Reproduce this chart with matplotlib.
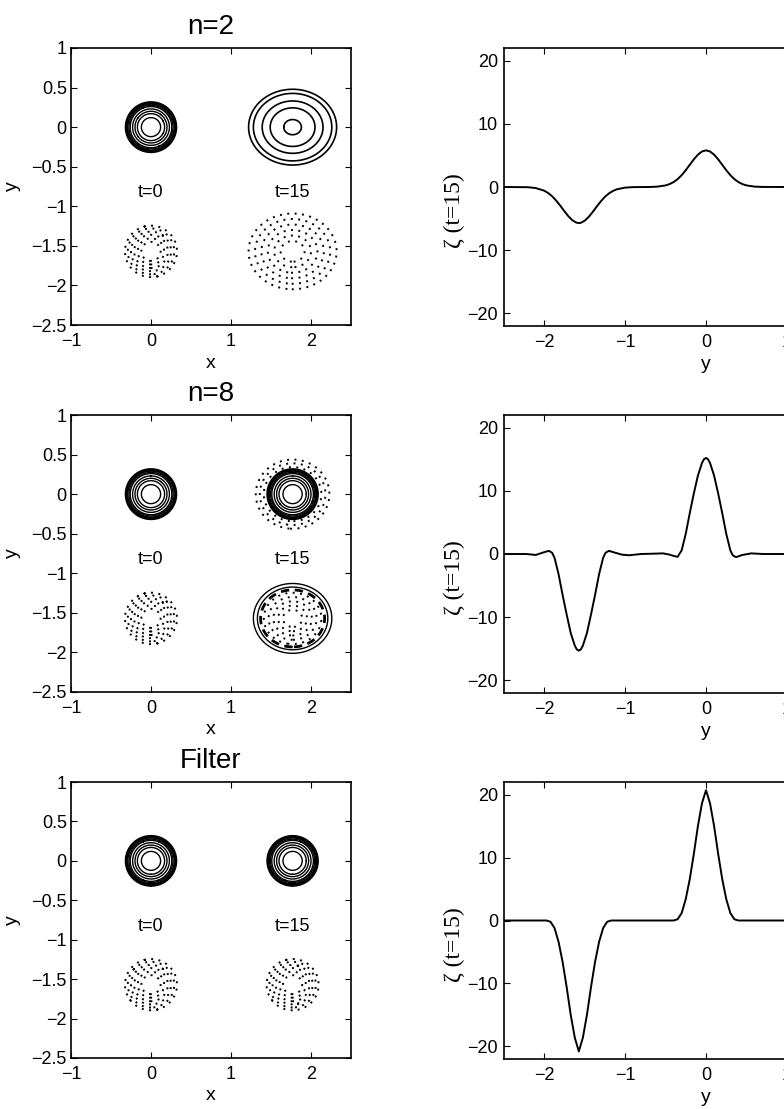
import numpy as np
import matplotlib
matplotlib.use('Agg')
import matplotlib.pyplot as plt
from matplotlib.ticker import FuncFormatter

plt.rcParams['font.family'] = ['Liberation Sans', 'DejaVu Sans']

titles = ['n=2', 'n=8', 'Filter']

# vortex centres (x at t=0 and t=15, y of the positive and negative vortex)
x_t0 = 0.0
x_t15 = 1.77
y_pos = 0.0
y_neg = -1.57

# contour radii at t=0 (same in every run)
solid_t0 = [0.12, 0.17, 0.20, 0.23, 0.26, 0.275, 0.29, 0.30, 0.31, 0.32]
dots_t0 = [0.12, 0.165, 0.21, 0.25, 0.29, 0.325]

# t=15 contour radii for each run, with y/x aspect of the rings
solid_pos_t15 = [[0.11, 0.28, 0.38, 0.49, 0.55], solid_t0, solid_t0]
aspect_pos_t15 = [0.87, 1.0, 1.0]
halo_pos_t15 = [[], [0.36, 0.41, 0.46], []]
dots_neg_t15 = [[0.15, 0.23, 0.31, 0.39, 0.47, 0.55],
                [0.12, 0.18, 0.24, 0.30, 0.36],
                dots_t0]
solid_neg_t15 = [[], [0.44, 0.49], []]
dash_neg_t15 = [[], [0.40], []]
aspect_neg_t15 = [0.87, 0.9, 1.0]

# zeta(t=15) profiles
y_n2 = [-2.5, -2.2, -2.1, -2.0, -1.95, -1.9, -1.85, -1.8, -1.75, -1.7,
        -1.65, -1.6, -1.57, -1.55, -1.5, -1.45, -1.4, -1.35, -1.3, -1.25,
        -1.2, -1.15, -1.1, -1.0, -0.9, -0.7, -0.6, -0.5, -0.45, -0.4,
        -0.35, -0.3, -0.25, -0.2, -0.15, -0.1, -0.05, 0.0, 0.05, 0.1,
        0.15, 0.2, 0.25, 0.3, 0.35, 0.4, 0.45, 0.5, 0.6, 0.7, 1.0, 2.5]
z_n2 = [0, -0.03, -0.17, -0.57, -0.94, -1.46, -2.14, -2.94, -3.80, -4.62,
        -5.26, -5.64, -5.7, -5.69, -5.36, -4.76, -3.97, -3.11, -2.29, -1.58,
        -1.03, -0.63, -0.36, -0.10, -0.02, 0, 0.06, 0.25, 0.46, 0.78,
        1.25, 1.88, 2.66, 3.52, 4.38, 5.12, 5.62, 5.8, 5.62, 5.12,
        4.38, 3.52, 2.66, 1.88, 1.25, 0.78, 0.46, 0.25, 0.06, 0.01, 0, 0]

y_n8 = [-2.5, -2.22, -2.1, -2.02, -1.94, -1.9, -1.87, -1.82, -1.77, -1.72,
        -1.67, -1.62, -1.595, -1.57, -1.545, -1.52, -1.47, -1.42, -1.37, -1.32,
        -1.27, -1.24, -1.2, -1.12, -1.04, -0.95, -0.8, -0.65, -0.53, -0.45,
        -0.4, -0.35, -0.3, -0.25, -0.2, -0.15, -0.1, -0.05, -0.025, 0.0,
        0.025, 0.05, 0.1, 0.15, 0.2, 0.25, 0.3, 0.33, 0.37, 0.45,
        0.56, 0.7, 2.5]
z_n8 = [0, 0, -0.15, 0.2, 0.5, 0.2, -0.6, -3.2, -6.5, -9.6,
        -12.5, -14.5, -15.1, -15.3, -15.1, -14.5, -12.5, -9.6, -6.5, -3.2,
        -0.6, 0.2, 0.5, 0.2, -0.1, -0.2, 0.0, 0.05, 0.1, -0.1,
        -0.3, -0.45, 0.6, 3.2, 6.5, 9.6, 12.4, 14.4, 15.0, 15.2,
        15.0, 14.4, 12.4, 9.6, 6.5, 3.2, 0.6, -0.2, -0.5, -0.15,
        0.1, 0.0, 0.0]

y_flt = [-2.5, -1.97, -1.92, -1.87, -1.82, -1.77, -1.72, -1.67, -1.62, -1.57,
         -1.52, -1.47, -1.42, -1.37, -1.32, -1.27, -1.22, -1.17, -0.4, -0.35,
         -0.3, -0.25, -0.2, -0.15, -0.1, -0.05, 0.0, 0.05, 0.1, 0.15,
         0.2, 0.25, 0.3, 0.35, 0.4, 2.5]
z_flt = [0, 0, -0.2, -1.2, -3.4, -6.6, -10.6, -15.0, -18.6, -20.8,
         -18.6, -15.0, -10.6, -6.6, -3.4, -1.2, -0.2, 0, 0, 0.2,
         1.2, 3.4, 6.6, 10.6, 15.0, 18.6, 20.7, 18.6, 15.0, 10.6,
         6.6, 3.4, 1.2, 0.2, 0, 0]

profiles = [(y_n2, z_n2), (y_n8, z_n8), (y_flt, z_flt)]

W, H = 784, 1109
fig = plt.figure(figsize=(W / 100, H / 100), dpi=100)

# axes boxes in pixels: (top, bottom)
rows_px = [(48, 325), (415, 692), (782, 1058)]

gx = np.linspace(-1, 2.5, 701)
gy = np.linspace(-2.5, 1, 701)
GX, GY = np.meshgrid(gx, gy)

fmt = FuncFormatter(lambda v, p: ('%g' % v).replace('-', '\u2212'))
dot_style = (0, (1, 2.8))


def rings(ax, xc, yc, levels, aspect=1.0, ls='solid', lw=1.0):
    if len(levels) == 0:
        return
    r = np.hypot(GX - xc, (GY - yc) / aspect)
    ax.contour(GX, GY, r, levels=sorted(levels), colors='k',
               linewidths=lw, linestyles=[ls] * len(levels))


def style(ax):
    ax.tick_params(direction='in', top=True, right=True, length=4,
                   width=0.8, labelsize=13)
    ax.tick_params(axis='x', pad=6)
    ax.tick_params(axis='y', pad=3)
    for s in ax.spines.values():
        s.set_linewidth(1.2)
    ax.xaxis.set_major_formatter(fmt)
    ax.yaxis.set_major_formatter(fmt)


for i in range(3):
    top, bot = rows_px[i]
    # left: contour panels
    ax = fig.add_axes([71 / W, 1 - bot / H, 280 / W, (bot - top) / H])
    rings(ax, x_t0, y_pos, solid_t0)
    rings(ax, x_t0, y_neg, dots_t0, ls=dot_style, lw=1.4)
    rings(ax, x_t15, y_pos, solid_pos_t15[i], aspect_pos_t15[i], lw=1.2 if i == 0 else 1.0)
    rings(ax, x_t15, y_pos, halo_pos_t15[i], 0.95, ls=dot_style, lw=1.4)
    rings(ax, x_t15, y_neg, dots_neg_t15[i], aspect_neg_t15[i], ls=dot_style, lw=1.4)
    rings(ax, x_t15, y_neg, solid_neg_t15[i], aspect_neg_t15[i])
    rings(ax, x_t15, y_neg, dash_neg_t15[i], aspect_neg_t15[i], ls=(0, (3, 2)), lw=2.0)
    ax.text(x_t0, -0.83, 't=0', ha='center', va='center', fontsize=13)
    ax.text(x_t15, -0.83, 't=15', ha='center', va='center', fontsize=13)
    ax.set_xlim(-1, 2.5)
    ax.set_ylim(-2.5, 1)
    ax.set_xticks([-1, 0, 1, 2])
    ax.set_yticks([-2.5, -2, -1.5, -1, -0.5, 0, 0.5, 1])
    style(ax)
    ax.set_title(titles[i], fontsize=20, pad=10)
    ax.set_xlabel('x', fontsize=14, labelpad=3)
    ax.set_ylabel('y', fontsize=14)
    ax.yaxis.set_label_coords(-0.18, 0.5)

    # right: zeta profiles (axes runs past the right edge of the page)
    ax2 = fig.add_axes([503.5 / W, 1 - (bot + 1) / H, 405 / W, (bot + 1 - top) / H])
    yy, zz = profiles[i]
    ax2.plot(yy, zz, color='k', lw=1.4)
    ax2.set_xlim(-2.5, 2.5)
    ax2.set_ylim(-22, 22)
    ax2.set_xticks([-2, -1, 0, 1, 2])
    ax2.set_yticks([-20, -10, 0, 10, 20])
    style(ax2)
    ax2.tick_params(axis='y', pad=4)
    ax2.set_xlabel('y', fontsize=14, labelpad=3)
    ax2.set_ylabel('\u03b6 (t=15)', fontsize=17, family=['Liberation Serif', 'DejaVu Serif'])
    ax2.yaxis.set_label_coords(-0.096, 0.414)

fig.savefig('out.png', dpi=100)
